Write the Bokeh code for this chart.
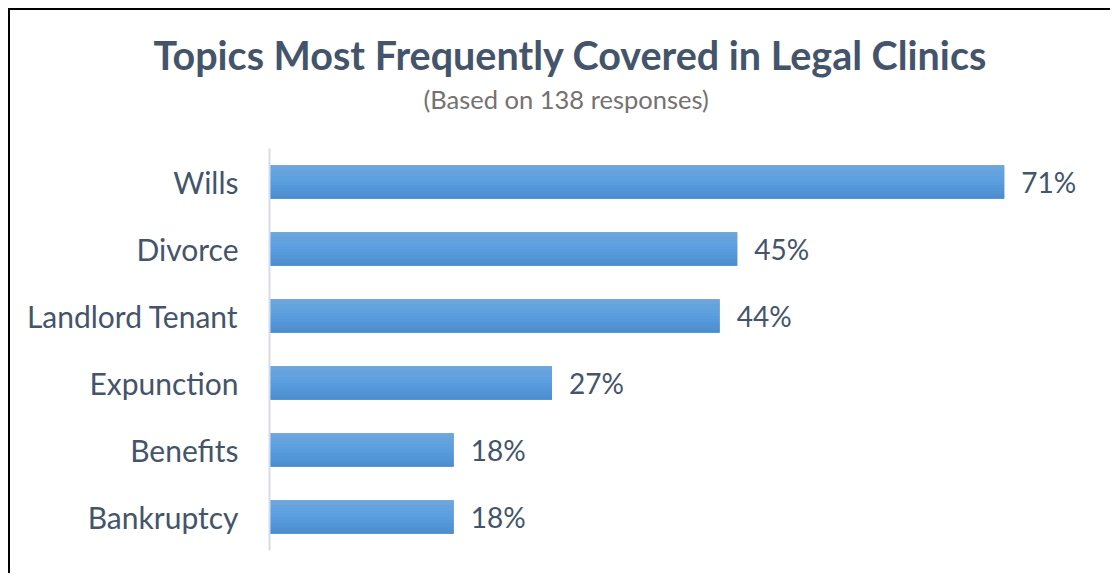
from bokeh.plotting import figure
from bokeh.models import ColumnDataSource, FactorRange, Title
from bokeh.transform import dodge
from bokeh.core.properties import value
from bokeh.embed import file_html
from bokeh.resources import INLINE

categories = ["Wills", "Divorce", "Landlord Tenant", "Expunction", "Benefits", "Bankruptcy"]
values = [71.0, 45.2, 43.5, 27.3, 17.8, 17.8]
labels = ["71%", "45%", "44%", "27%", "18%", "18%"]

TEXT = "#44546A"
FONT = "Lato"

src = ColumnDataSource(dict(cat=categories, val=values, lab=labels))

p = figure(width=1102, height=565, output_backend="svg", toolbar_location=None,
           y_range=FactorRange(*categories[::-1]), x_range=(0, 80.3),
           title=None, min_border_left=259, min_border_right=12,
           min_border_top=138, min_border_bottom=25)
p.styles = {"margin-left": "8px", "margin-top": "8px",
            "border-left": "2px solid black", "border-top": "2px solid black"}

# gradient-like bars: base bar plus stacked strips
stops = [(0.0, (0x4A, 0x8B, 0xCB)), (0.5, (0x5A, 0x9E, 0xE0)), (1.0, (0x6F, 0xA7, 0xDC))]
def col(t):
    for (t0, c0), (t1, c1) in zip(stops[:-1], stops[1:]):
        if t0 <= t <= t1:
            f = (t - t0) / (t1 - t0)
            return "#%02x%02x%02x" % tuple(int(round(a + (b - a) * f)) for a, b in zip(c0, c1))
    return "#5B9BD5"

H = 0.5
p.hbar(y="cat", right="val", left=0, height=H, source=src, fill_color="#5A9DDC", line_color=None)
N = 12
sh = H / N
for i in range(N):
    off = -H / 2 + sh * (i + 0.5)
    p.hbar(y=dodge("cat", off, range=p.y_range), right="val", left=0, height=sh,
           source=src, fill_color=col((i + 0.5) / N), line_color=None)

p.text(x="val", y="cat", text="lab", source=src, x_offset=17,
       text_font=value(FONT), text_font_size="28px", text_color=TEXT,
       text_baseline="middle", text_align="left")

p.xaxis.visible = False
p.xgrid.visible = False
p.ygrid.visible = False
p.outline_line_color = None
ax = p.yaxis[0]
ax.axis_line_color = "#D9DCE3"
ax.axis_line_width = 2
ax.major_tick_line_color = None
ax.minor_tick_line_color = None
ax.major_label_text_font = FONT
ax.major_label_text_font_size = "30px"
ax.major_label_text_color = TEXT
ax.major_label_standoff = 25
p.y_range.range_padding = 0

# stacked titles (first added sits closest to the plot area)
p.add_layout(Title(text=" ", text_font=FONT, text_font_size="22px", standoff=6), "above")
p.add_layout(Title(text="(Based on 138 responses)", text_font=FONT, text_font_size="25.5px",
                   text_font_style="normal", text_color="#767171", align="left",
                   offset=154, standoff=0), "above")
p.add_layout(Title(text="Topics Most Frequently Covered in Legal Clinics", text_font=FONT,
                   text_font_size="39.5px", text_font_style="bold", text_color=TEXT,
                   align="left", offset=-116, standoff=8), "above")

open("out.html", "w").write(file_html(p, INLINE))
